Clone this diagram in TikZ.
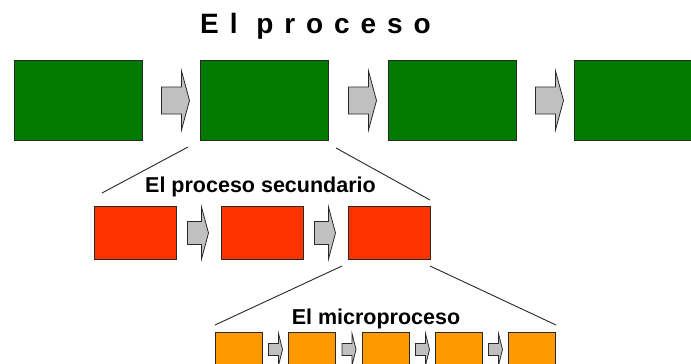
\documentclass[tikz,border=0pt]{standalone}
\usepackage{fontspec}
\setmainfont{Liberation Sans}
\usetikzlibrary{calc}

\definecolor{stepgreen}{RGB}{0,122,0}
\definecolor{stepred}{RGB}{255,51,0}
\definecolor{steporange}{RGB}{255,153,0}
\definecolor{arrowgray}{RGB}{192,192,192}
\definecolor{edgegray}{RGB}{40,40,40}

\tikzset{
  stepbox/.style={draw=edgegray, line width=1pt, inner sep=0pt, anchor=north west},
  greenbox/.style={stepbox, fill=stepgreen, minimum width=128, minimum height=80},
  redbox/.style={stepbox, fill=stepred, minimum width=82, minimum height=53},
  orangebox/.style={stepbox, fill=steporange, minimum width=47, minimum height=36},
  arrowshape/.style={draw=edgegray, line width=0.8pt, fill=arrowgray, line join=miter},
  zoomline/.style={draw=black!85, line width=0.9pt},
  label/.style={font=\bfseries\fontsize{21.5}{24}\selectfont, inner sep=0pt, anchor=base},
  % block arrow: total length / body half height / head half height / head length
  pics/blockarrow/.style args={#1/#2/#3/#4}{code={
    \path[arrowshape] (-#1/2,-#2) -- (#1/2-#4,-#2) -- (#1/2-#4,-#3) -- (#1/2,0)
      -- (#1/2-#4,#3) -- (#1/2-#4,#2) -- (-#1/2,#2) -- cycle;
  }},
}

\begin{document}
\begin{tikzpicture}[x=1pt, y=-1pt]
\useasboundingbox (0,0) rectangle (691,364);
\clip (0,0) rectangle (691,364);

% title
\node[inner sep=0pt, anchor=base west,
      font=\bfseries\fontsize{28}{30}\selectfont\addfontfeature{LetterSpace=39}]
  (title) at (200,33) {El proceso};

% main process
\node[greenbox] (g1) at (14,60) {};
\node[greenbox] (g2) at (200,60) {};
\node[greenbox] (g3) at (388,60) {};
\node[greenbox] (g4) at (574,60) {};
\foreach \a/\b in {g1/g2, g2/g3, g3/g4}
  \pic at ($(\a.east)!0.5!(\b.west)+(4,0)$) {blockarrow=28/13.5/29.5/8};

% secondary process
\node[label] (sec) at (260.5,192) {El proceso secundario};
\node[redbox] (r1) at (94,206) {};
\node[redbox] (r2) at (221,206) {};
\node[redbox] (r3) at (348,206) {};
\foreach \a/\b in {r1/r2, r2/r3}
  \pic at ($(\a.east)!0.5!(\b.west)+(-1,0)$) {blockarrow=21/11.5/26/7};

\coordinate (gl) at ($(g2.south west)+(-12,6)$);
\coordinate (gr) at ($(g2.south east)+(7,7)$);
\coordinate (rl) at ($(r1.north west)+(8,-13)$);
\coordinate (rr) at ($(r3.north east)+(-1,-6)$);
\draw[zoomline] (gl) -- (rl);
\draw[zoomline] (gr) -- (rr);

% micro process
\node[label] (mic) at (376,324) {El microproceso};
\node[orangebox] (o1) at (215,332) {};
\node[orangebox] (o2) at (288,332) {};
\node[orangebox] (o3) at (362,332) {};
\node[orangebox] (o4) at (435,332) {};
\node[orangebox] (o5) at (508,332) {};
\foreach \a/\b in {o1/o2, o2/o3, o3/o4, o4/o5}
  \pic at ($(\a.east)!0.5!(\b.west)+(0,-1)$) {blockarrow=14/6/16/4};

\coordinate (ml) at ($(r3.south west)+(-6,6)$);
\coordinate (mr) at ($(r3.south east)+(-1,6)$);
\coordinate (ol) at ($(o1.north west)+(0,-7)$);
\coordinate (or) at ($(o5.north east)+(0,-7)$);
\draw[zoomline] (ml) -- (ol);
\draw[zoomline] (mr) -- (or);
\end{tikzpicture}
\end{document}
